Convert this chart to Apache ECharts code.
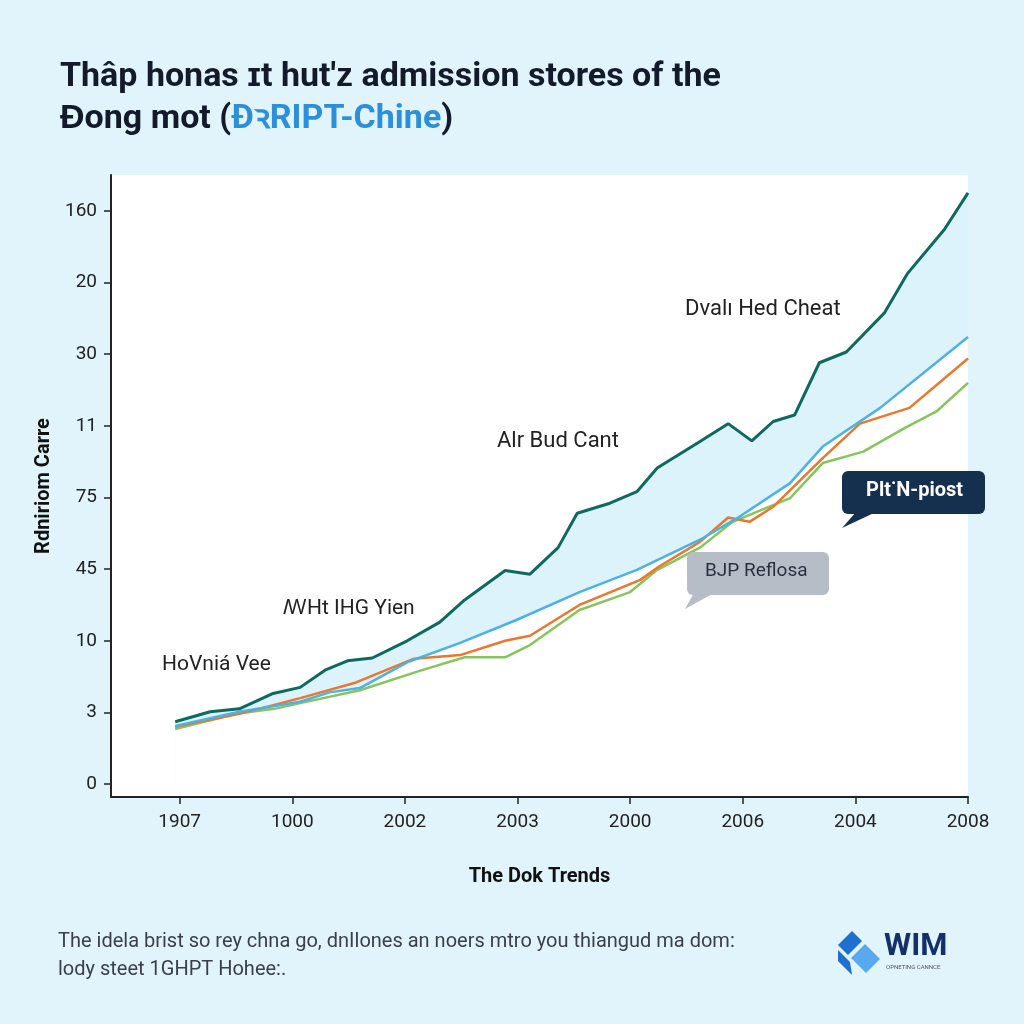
<!DOCTYPE html>
<html><head><meta charset="utf-8">
<script src="https://cdn.jsdelivr.net/npm/echarts@6/dist/echarts.min.js"></script>
<style>html,body{margin:0;padding:0;background:#e1f4fb;}#c{width:1024px;height:1024px;}</style>
</head><body><div id="c"></div>
<script>
const xTickLabels = ['1907','1000','2002','2003','2000','2006','2004','2008'];
const yTickLabels = ['0','3','10','45','75','11','30','20','160'];
const tealSeries = [[-0.04,0.87],[0.27,1.01],[0.53,1.05],[0.82,1.26],[1.07,1.35],[1.29,1.59],[1.49,1.72],[1.71,1.76],[2.02,2.00],[2.31,2.26],[2.53,2.57],[2.89,2.98],[3.11,2.93],[3.36,3.30],[3.53,3.78],[3.82,3.92],[4.06,4.08],[4.24,4.41],[4.62,4.78],[4.87,5.03],[5.08,4.79],[5.27,5.06],[5.46,5.15],[5.68,5.88],[5.92,6.03],[6.26,6.58],[6.46,7.12],[6.79,7.74],[7.00,8.25]];
const blueSeries = [[-0.04,0.81],[0.53,1.01],[1.07,1.15],[1.33,1.28],[1.60,1.34],[2.02,1.70],[2.49,1.97],[2.99,2.29],[3.55,2.68],[4.06,2.99],[4.62,3.41],[4.97,3.73],[5.42,4.20],[5.71,4.71],[6.22,5.25],[7.00,6.24]];
const orangeSeries = [[-0.04,0.80],[0.53,0.98],[1.07,1.20],[1.55,1.41],[2.08,1.75],[2.49,1.80],[2.89,2.00],[3.11,2.07],[3.55,2.50],[4.09,2.85],[4.26,3.04],[4.62,3.38],[4.87,3.72],[5.06,3.66],[5.27,3.87],[5.71,4.55],[6.04,5.03],[6.48,5.25],[7.00,5.94]];
const greenSeries = [[-0.04,0.77],[0.53,0.99],[0.84,1.05],[1.07,1.13],[1.60,1.31],[2.13,1.58],[2.53,1.77],[2.89,1.77],[3.11,1.94],[3.55,2.43],[4.00,2.68],[4.24,2.99],[4.62,3.30],[4.91,3.66],[5.42,3.99],[5.71,4.48],[6.07,4.64],[6.44,4.97],[6.72,5.20],[7.00,5.60]];
const xTickValues = [0,1,2,3,4,5,6,7];
const yTickValues = [0,1,2,3,4,5,6,7,8];

const chart = echarts.init(document.getElementById('c'));
const font = 'Roboto, "Liberation Sans", sans-serif';
chart.setOption({
  backgroundColor: '#e1f4fb',
  animation: false,
  grid: {left: 111, right: 56, top: 175, bottom: 227, show: true, backgroundColor: '#ffffff', borderWidth: 0},
  xAxis: {
    type: 'value', min: -0.61, max: 7,
    name: 'The Dok Trends', nameLocation: 'middle', nameGap: 70,
    nameTextStyle: {fontSize: 20, fontWeight: 'bold', color: '#111', fontFamily: font},
    axisLine: {show: true, onZero: false, lineStyle: {color: '#222', width: 2}},
    axisTick: {show: true, length: 7, lineStyle: {color: '#222', width: 1.5}, customValues: xTickValues},
    axisLabel: {customValues: xTickValues, formatter: v => xTickLabels[Math.round(v)], fontSize: 19, color: '#222', margin: 16, fontFamily: font},
    splitLine: {show: false}
  },
  yAxis: {
    type: 'value', min: -0.18, max: 8.5,
    name: 'Rdniriom Carre', nameLocation: 'middle', nameGap: 54, nameRotate: 90,
    nameTextStyle: {fontSize: 20, fontWeight: 'bold', color: '#111', fontFamily: font},
    axisLine: {show: true, onZero: false, lineStyle: {color: '#222', width: 2}},
    axisTick: {show: true, length: 7, lineStyle: {color: '#222', width: 1.5}, customValues: yTickValues},
    axisLabel: {customValues: yTickValues, formatter: v => yTickLabels[Math.round(v)], fontSize: 19, color: '#222', margin: 14, fontFamily: font},
    splitLine: {show: false}
  },
  series: [
    {type: 'line', data: tealSeries, symbol: 'none', lineStyle: {width: 0}, areaStyle: {color: '#dcf3fb', opacity: 1, origin: 'auto'}, z: 1},
    {type: 'line', data: blueSeries, symbol: 'none', lineStyle: {width: 0}, areaStyle: {color: '#ffffff', opacity: 1, origin: 'auto'}, z: 2},
    {type: 'line', data: greenSeries, symbol: 'none', lineStyle: {color: '#86c45e', width: 2.5}, z: 3},
    {type: 'line', data: orangeSeries, symbol: 'none', lineStyle: {color: '#ea772b', width: 2.5}, z: 4},
    {type: 'line', data: blueSeries, symbol: 'none', lineStyle: {color: '#4cb2e4', width: 2.5}, z: 5},
    {type: 'line', data: tealSeries, symbol: 'none', lineStyle: {color: '#0e6a5f', width: 3}, z: 6}
  ],
  graphic: [
    {type: 'text', left: 60, top: 60, style: {text: 'Thâp honas ɪt hut′ᴢ admission stores of the', fontSize: 34, fontWeight: 'bold', fill: '#121a2c', fontFamily: font}},
    {type: 'text', left: 60, top: 102, style: {
      text: 'Ɖong mot ({b|ĐꝛRIPT-Chine})', fontSize: 34, fontWeight: 'bold', fill: '#121a2c', fontFamily: font,
      rich: {b: {fontSize: 34, fontWeight: 'bold', fill: '#2b8fdc', fontFamily: font}}
    }},
    {type: 'text', left: 685, top: 298, style: {text: 'Dvalı Hed Cheat', fontSize: 22, fill: '#222', fontFamily: font}, z: 10},
    {type: 'text', left: 497, top: 430, style: {text: 'Alr Bud Cant', fontSize: 22, fill: '#222', fontFamily: font}, z: 10},
    {type: 'text', left: 283, top: 598, style: {text: 'ꟿHt IHG Yien', fontSize: 21, fill: '#222', fontFamily: font}, z: 10},
    {type: 'text', left: 162, top: 654, style: {text: 'HoVniá Vee', fontSize: 21, fill: '#222', fontFamily: font}, z: 10},
    {type: 'rect', shape: {x: 842, y: 471, width: 143, height: 43, r: 6}, style: {fill: '#15304f'}, z: 10},
    {type: 'polygon', shape: {points: [[856, 512], [876, 512], [842, 528]]}, style: {fill: '#15304f'}, z: 10},
    {type: 'text', left: 866, top: 481, style: {text: 'Plt˙N-piost', fontSize: 20, fontWeight: 'bold', fill: '#ffffff', fontFamily: font}, z: 11},
    {type: 'rect', shape: {x: 687, y: 552, width: 142, height: 43, r: 6}, style: {fill: '#b7bdc7'}, z: 10},
    {type: 'polygon', shape: {points: [[694, 593], [714, 593], [685, 609]]}, style: {fill: '#b7bdc7'}, z: 10},
    {type: 'text', left: 705, top: 562, style: {text: 'BJP Reflosa', fontSize: 19, fill: '#2a3040', fontFamily: font}, z: 11},
    {type: 'text', left: 58, top: 928, style: {text: 'The idela brist so rey chna go, dnIlones an noers mtro you thiangud ma dom:\nlody steet 1GHPT Hohee:.', fontSize: 20, lineHeight: 28, fill: '#3a3f4a', fontFamily: font}},
    {type: 'polygon', shape: {points: [[852, 931], [862, 941], [848, 955], [838, 945]]}, style: {fill: '#1f6fd1'}},
    {type: 'polygon', shape: {points: [[865, 944], [880, 959], [866, 973], [851, 958]]}, style: {fill: '#5aa9f0'}},
    {type: 'polygon', shape: {points: [[838, 950], [850, 962], [852, 975], [838, 961]]}, style: {fill: '#1f6fd1'}},
    {type: 'text', left: 884, top: 932, style: {text: 'WIM', fontSize: 31, fontWeight: 'bold', fill: '#14306a', fontFamily: font}},
    {type: 'text', left: 886, top: 964, style: {text: 'OPNETING CANNCE', fontSize: 6, fill: '#556', fontFamily: font}}
  ]
});
</script>
</body></html>
